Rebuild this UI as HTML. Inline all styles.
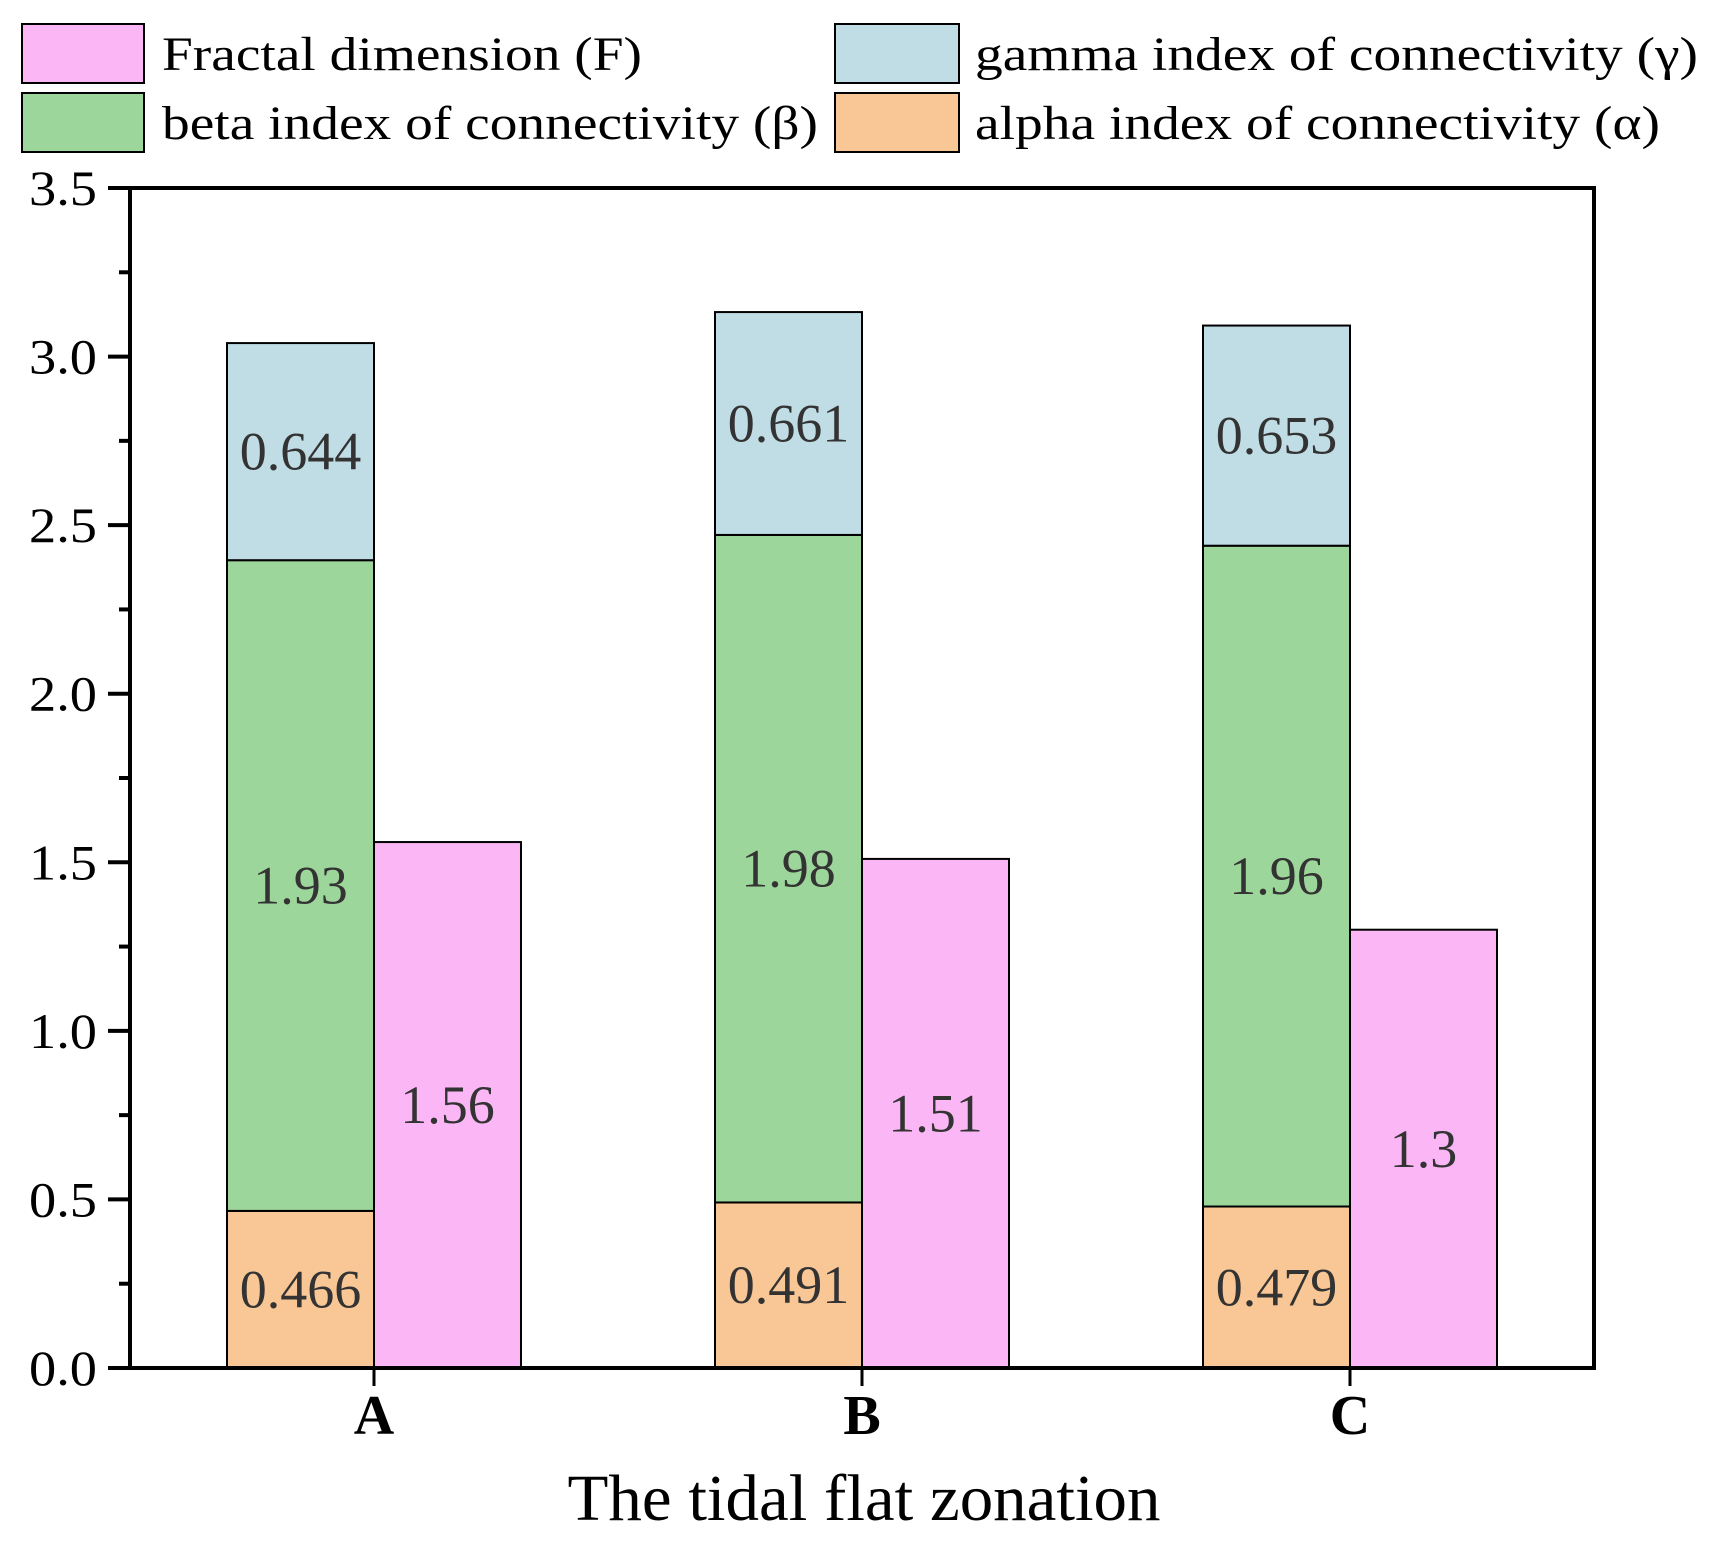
<!DOCTYPE html>
<html><head><meta charset="utf-8"><style>
html,body{margin:0;padding:0;background:#fff}
svg{display:block}
text{font-family:"Liberation Serif",serif}
</style></head><body>
<svg id="chart" width="1711" height="1550" viewBox="0 0 1711 1550" xmlns="http://www.w3.org/2000/svg">
<g id="legend">
 <g><rect x="22" y="24" width="122" height="59" fill="#fbb6f5" stroke="#000" stroke-width="2"/><text x="162" y="70" font-size="48" textLength="480" lengthAdjust="spacingAndGlyphs" fill="#000">Fractal dimension (F)</text></g>
 <g><rect x="835" y="24" width="124" height="59" fill="#c0dde6" stroke="#000" stroke-width="2"/><text x="975" y="70" font-size="48" textLength="723" lengthAdjust="spacingAndGlyphs" fill="#000">gamma index of connectivity (γ)</text></g>
 <g><rect x="22" y="93" width="122" height="59" fill="#9dd69a" stroke="#000" stroke-width="2"/><text x="162" y="139" font-size="48" textLength="656" lengthAdjust="spacingAndGlyphs" fill="#000">beta index of connectivity (β)</text></g>
 <g><rect x="835" y="93" width="124" height="59" fill="#f9c796" stroke="#000" stroke-width="2"/><text x="975" y="139" font-size="48" textLength="685" lengthAdjust="spacingAndGlyphs" fill="#000">alpha index of connectivity (α)</text></g>
</g>
<g id="bars"></g>
<g id="axes"></g>
<text x="864" y="1520" font-size="66" text-anchor="middle" textLength="593" lengthAdjust="spacingAndGlyphs" fill="#000">The tidal flat zonation</text>
</svg>
<script>
const categories = ["A","B","C"];
const alphaVals = [0.466, 0.491, 0.479];
const betaVals = [1.93, 1.98, 1.96];
const gammaVals = [0.644, 0.661, 0.653];
const fractalVals = [1.56, 1.51, 1.3];
const yTicks = [0,0.5,1.0,1.5,2.0,2.5,3.0,3.5];

const NS="http://www.w3.org/2000/svg";
const L=130,R=1594,T=188,B=1368,yMax=3.5,bw=147;
const yS=v=>B-(v/yMax)*(B-T);
const xc=i=>L+(R-L)*(i+0.5)/categories.length;
function mk(tag,attrs,parent){const e=document.createElementNS(NS,tag);for(const k in attrs)e.setAttribute(k,attrs[k]);parent.appendChild(e);return e;}
const bars=document.getElementById('bars'), axes=document.getElementById('axes');
function label(txt,x,yy){const t=mk('text',{x:x,y:yy+18,'font-size':54,'text-anchor':'middle',fill:'#333'},bars);t.textContent=txt;

}
categories.forEach((c,i)=>{
  const x0=xc(i)-bw, x1=xc(i);
  const segs=[[alphaVals[i],'#f9c796','alpha'],[betaVals[i],'#9dd69a','beta'],[gammaVals[i],'#c0dde6','gamma']];
  let base=0;
  segs.forEach(s=>{
    const r=mk('rect',{x:x0,y:yS(base+s[0]),width:bw,height:yS(base)-yS(base+s[0]),fill:s[1],stroke:'#000','stroke-width':2},bars);
    
    
    label(String(s[0]),x0+bw/2,(yS(base)+yS(base+s[0]))/2);
    base+=s[0];
  });
  const f=mk('rect',{x:x1,y:yS(fractalVals[i]),width:bw,height:B-yS(fractalVals[i]),fill:'#fbb6f5',stroke:'#000','stroke-width':2},bars);
  
  
  label(String(fractalVals[i]),x1+bw/2,(B+yS(fractalVals[i]))/2);
  mk('line',{x1:x1,y1:B,x2:x1,y2:B+18,stroke:'#000','stroke-width':3},axes);
  const t=mk('text',{x:x1,y:B+66,'font-size':56,'font-weight':'bold','text-anchor':'middle',fill:'#000'},axes);t.textContent=c;
  
  
});
const frame=mk('rect',{x:L,y:T,width:R-L,height:B-T,fill:'none',stroke:'#000','stroke-width':4},axes);


yTicks.forEach((v,k)=>{
  mk('line',{x1:L-22,y1:yS(v),x2:L,y2:yS(v),stroke:'#000','stroke-width':4},axes);
  if(k < yTicks.length-1) mk('line',{x1:L-11,y1:yS(v+0.25),x2:L,y2:yS(v+0.25),stroke:'#000','stroke-width':4},axes);
  const t=mk('text',{x:97,y:yS(v)+17,'font-size':50,'text-anchor':'end',textLength:68,lengthAdjust:'spacingAndGlyphs',fill:'#000'},axes);t.textContent=v.toFixed(1);
  
  
});
</script>
</body></html>
